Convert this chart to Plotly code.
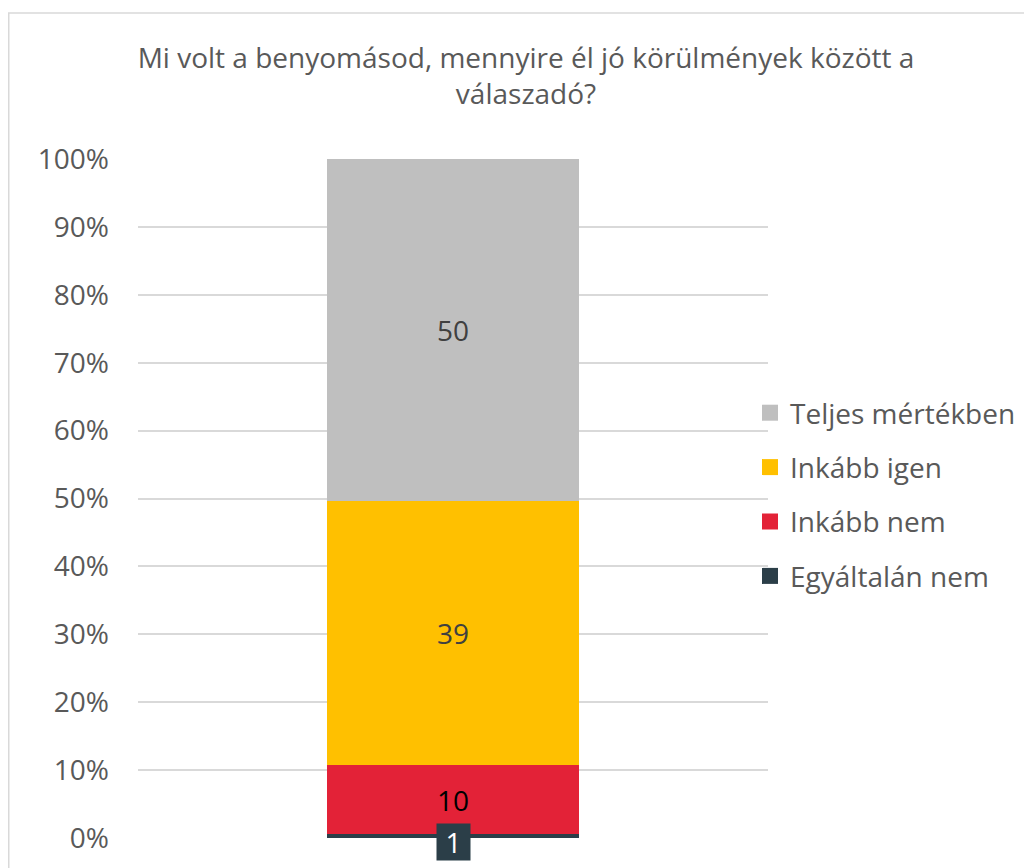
import plotly.graph_objects as go

categories = ["Válaszadók"]
series_names = ["Egyáltalán nem", "Inkább nem", "Inkább igen", "Teljes mértékben"]
series_values = [[0.6], [10.1], [39.0], [50.3]]   # percent shares
colors = ["#2B3E48", "#E32237", "#FFC000", "#BFBFBF"]
text_colors = ["#FFFFFF", "#000000", "#404040", "#404040"]
tick_vals = [0, 10, 20, 30, 40, 50, 60, 70, 80, 90, 100]
tick_text = [f"{v}%" for v in tick_vals]
title_text = "Mi volt a benyomásod, mennyire él jó körülmények között a<br>válaszadó?"

FONT = "Open Sans"
FS = 28
# page body adds an 8px margin, so the figure is drawn 8px in from the window edge
W, H = 1024, 860
L, R, T, B = 130, 264, 151, 30
pw, ph = W - L - R, H - T - B

fig = go.Figure()
n = len(series_names)
for i, (name, vals, col, tc) in enumerate(zip(series_names, series_values, colors, text_colors)):
    show_text = i != 0
    fig.add_trace(go.Bar(
        x=categories, y=vals, name=name,
        marker=dict(color=col, line=dict(width=0)),
        text=[f"{v:.0f}" for v in vals] if show_text else None,
        textposition="inside" if show_text else "none",
        insidetextanchor="middle",
        textangle=0,
        textfont=dict(family=FONT, size=FS, color=tc),
        showlegend=False,
        hoverinfo="skip",
    ))
    # legend entry with larger square symbol
    fig.add_trace(go.Scatter(
        x=[None], y=[None], mode="markers", name=name,
        marker=dict(symbol="square", size=18, color=col),
        legendrank=n - i, legendgroup=name,
        hoverinfo="skip",
    ))

# small-segment label (dark box) placed at the segment centre
total = sum(v[0] for v in series_values)
small = series_values[0][0]
fig.add_annotation(
    x=categories[0], y=small / total * 100 / 2,
    xref="x", yref="y", text=f"{small:.0f}", showarrow=False,
    font=dict(family=FONT, size=FS, color="#FFFFFF"),
    bgcolor=colors[0], borderpad=0, yshift=-6, width=33, height=36,
)

fig.update_layout(
    width=W, height=H,
    margin=dict(l=L, r=R, t=T, b=B, autoexpand=False),
    paper_bgcolor="white", plot_bgcolor="white",
    barmode="stack", barnorm="percent", bargap=0.6,
    title=dict(text=title_text, x=518 / W, xanchor="center", xref="container",
               y=1 - 60 / H, yanchor="top",
               font=dict(family=FONT, size=FS, color="#595959")),
    font=dict(family=FONT, color="#595959"),
    legend=dict(x=(742 - L) / pw, xanchor="left",
                y=(H - B - 486.5) / ph, yanchor="middle",
                traceorder="grouped", tracegroupgap=15,
                font=dict(family=FONT, size=FS, color="#595959"),
                itemwidth=30, bgcolor="rgba(0,0,0,0)"),
    showlegend=True,
)
fig.update_xaxes(showticklabels=False, showgrid=False, zeroline=False, showline=False)
fig.update_yaxes(range=[0, 100], tickvals=tick_vals, ticktext=tick_text,
                 showgrid=True, gridcolor="#D9D9D9", gridwidth=1.5,
                 zeroline=False, showline=False, ticks="",
                 tickfont=dict(family=FONT, size=FS, color="#595959"),
                 ticklabelstandoff=28)

fig.add_shape(type="rect", xref="paper", yref="paper",
              x0=(0.75 - L) / pw, x1=(W + 10 - L) / pw,
              y0=(H - B - (H + 10)) / ph, y1=(H - B - 5) / ph,
              line=dict(color="#D9D9D9", width=1.5), fillcolor="rgba(0,0,0,0)",
              layer="below")

fig.write_html("out.html")
